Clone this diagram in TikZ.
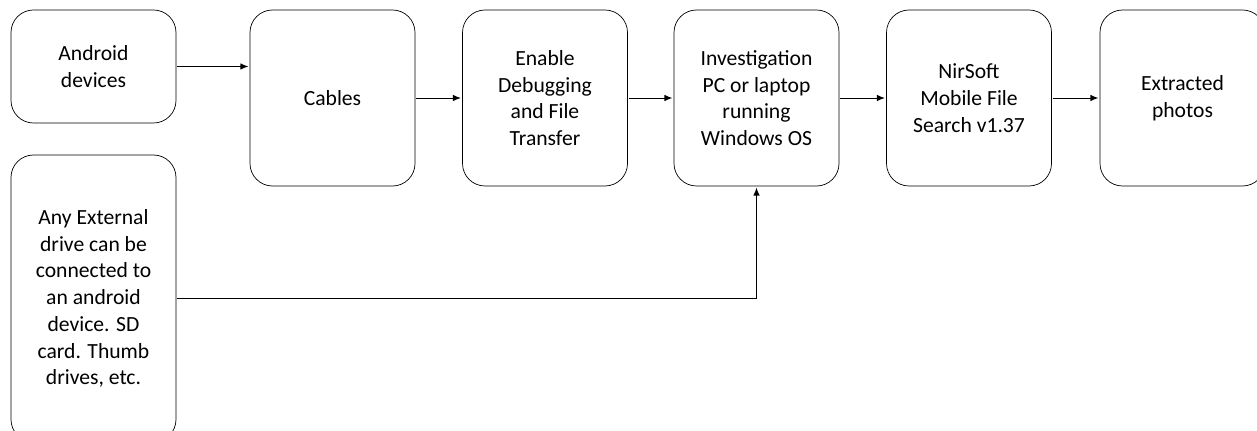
\documentclass[tikz,border=0pt]{standalone}
\usepackage{fontspec}
\setmainfont{Carlito}
\usetikzlibrary{arrows.meta}
\begin{document}
\begin{tikzpicture}
\tikzset{ >={Latex[length=4.8pt,width=3.8pt]}, line width=1.35pt,
  blok/.style={draw, rounded corners=0.45cm, minimum width=3.3cm, align=center,
    inner sep=0pt, font=\fontsize{12.3pt}{15.2pt}\selectfont},
  tall/.style={blok, minimum height=3.52cm},
}
\useasboundingbox (0,0) rectangle (25.14,8.6);

%\draw [lightgray, dashed](0,0) grid (25,8);

\node [blok, minimum height=2.26cm] (AND) at (1.87,7.27) {Android\\devices};
\node [tall] (CAB) at (6.65,6.64) {Cables};
\node [tall] (DBG) at (10.9,6.64) {Enable\\Debugging\\and File\\Transfer};
\node [tall] (PC)  at (15.13,6.64) {Investigation\\PC or laptop\\running\\Windows OS};
\node [tall] (NIR) at (19.38,6.64) {NirSoft\\Mobile File\\Search v1.37};
\node [tall] (PHO) at (23.65,6.64) {Extracted\\photos};

\node [blok, minimum height=5.74cm] (EXT) at (1.87,2.63)
  {Any External\\drive can be\\connected to\\an android\\device. SD\\card. Thumb\\drives, etc.};

\draw [->] (AND.east) -- (AND.east -| CAB.west);
\draw [->] (CAB) -- (DBG);
\draw [->] (DBG) -- (PC);
\draw [->] (PC)  -- (NIR);
\draw [->] (NIR) -- (PHO);
\draw [->] (EXT.east) -| (PC.south);

\end{tikzpicture}
\end{document}
